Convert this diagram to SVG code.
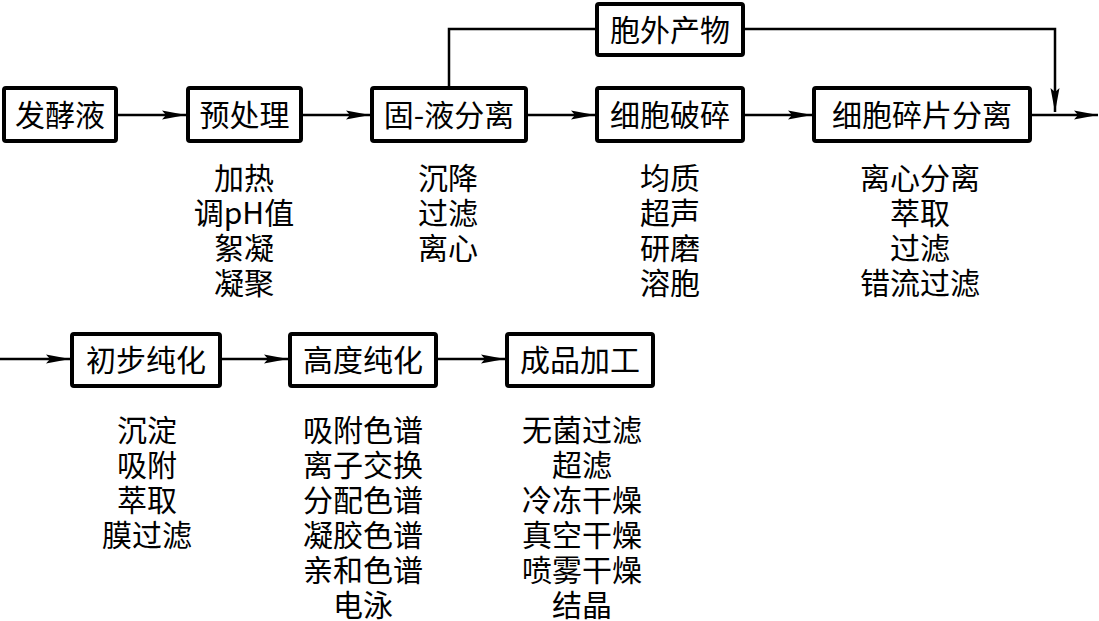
<svg xmlns="http://www.w3.org/2000/svg" width="1099" height="621" viewBox="0 0 1099 621">
<style>
.box{fill:#fff;stroke:#000;stroke-width:4;}
.t{font-family:"Noto Sans CJK SC","Noto Sans",sans-serif;font-size:30px;fill:#000;text-anchor:middle;}
.c{fill:none;stroke:#000;stroke-width:2.5;}
</style>
<defs>
<marker id="a" markerUnits="userSpaceOnUse" markerWidth="26" markerHeight="12" viewBox="0 -6 26 12" refX="24" refY="0" orient="auto">
<path d="M0,-4.5 L24,0 L0,4.5 L4,0 z" fill="#000"/>
</marker>
</defs>
<rect width="1099" height="621" fill="#fff"/>
<g id="connectors">
<path class="c" d="M118 115 H186" marker-end="url(#a)"/>
<path class="c" d="M303 115 H370" marker-end="url(#a)"/>
<path class="c" d="M528 115 H595" marker-end="url(#a)"/>
<path class="c" d="M745 115 H812" marker-end="url(#a)"/>
<path class="c" d="M1032 115 H1098" marker-end="url(#a)"/>
<path class="c" d="M449 86 V29 H595"/>
<path class="c" d="M745 29 H1055 V112" marker-end="url(#a)"/>
<path class="c" d="M0 359 H70" marker-end="url(#a)"/>
<path class="c" d="M222 359 H288" marker-end="url(#a)"/>
<path class="c" d="M438 359 H505" marker-end="url(#a)"/>
</g>
<g id="n1"><rect class="box" x="4" y="88" width="112" height="53" rx="2"/><text class="t" x="60" y="126">发酵液</text></g>
<g id="n2"><rect class="box" x="188" y="88" width="113" height="53" rx="2"/><text class="t" x="244.5" y="126">预处理</text></g>
<g id="n3"><rect class="box" x="372" y="88" width="154" height="53" rx="2"/><text class="t" x="449" y="126">固-液分离</text></g>
<g id="n4"><rect class="box" x="597" y="88" width="146" height="53" rx="2"/><text class="t" x="670" y="126">细胞破碎</text></g>
<g id="n5"><rect class="box" x="597" y="4" width="146" height="51" rx="2"/><text class="t" x="670" y="41">胞外产物</text></g>
<g id="n6"><rect class="box" x="814" y="88" width="216" height="53" rx="2"/><text class="t" x="922" y="126">细胞碎片分离</text></g>
<g id="n7"><rect class="box" x="72" y="334" width="148" height="52" rx="2"/><text class="t" x="146" y="371">初步纯化</text></g>
<g id="n8"><rect class="box" x="290" y="334" width="146" height="52" rx="2"/><text class="t" x="363" y="371">高度纯化</text></g>
<g id="n9"><rect class="box" x="507" y="334" width="146" height="52" rx="2"/><text class="t" x="580" y="371">成品加工</text></g>
<g id="l1">
<text class="t" x="244" y="189">加热</text>
<text class="t" x="244" y="224">调pH值</text>
<text class="t" x="244" y="259">絮凝</text>
<text class="t" x="244" y="294">凝聚</text>
</g>
<g id="l2">
<text class="t" x="448" y="189">沉降</text>
<text class="t" x="448" y="224">过滤</text>
<text class="t" x="448" y="259">离心</text>
</g>
<g id="l3">
<text class="t" x="670" y="189">均质</text>
<text class="t" x="670" y="224">超声</text>
<text class="t" x="670" y="259">研磨</text>
<text class="t" x="670" y="294">溶胞</text>
</g>
<g id="l4">
<text class="t" x="920" y="189">离心分离</text>
<text class="t" x="920" y="224">萃取</text>
<text class="t" x="920" y="259">过滤</text>
<text class="t" x="920" y="294">错流过滤</text>
</g>
<g id="l5">
<text class="t" x="147" y="441">沉淀</text>
<text class="t" x="147" y="476">吸附</text>
<text class="t" x="147" y="511">萃取</text>
<text class="t" x="147" y="546">膜过滤</text>
</g>
<g id="l6">
<text class="t" x="363" y="441">吸附色谱</text>
<text class="t" x="363" y="476">离子交换</text>
<text class="t" x="363" y="511">分配色谱</text>
<text class="t" x="363" y="546">凝胶色谱</text>
<text class="t" x="363" y="581">亲和色谱</text>
<text class="t" x="363" y="616">电泳</text>
</g>
<g id="l7">
<text class="t" x="582" y="441">无菌过滤</text>
<text class="t" x="582" y="476">超滤</text>
<text class="t" x="582" y="511">冷冻干燥</text>
<text class="t" x="582" y="546">真空干燥</text>
<text class="t" x="582" y="581">喷雾干燥</text>
<text class="t" x="582" y="616">结晶</text>
</g>
</svg>
